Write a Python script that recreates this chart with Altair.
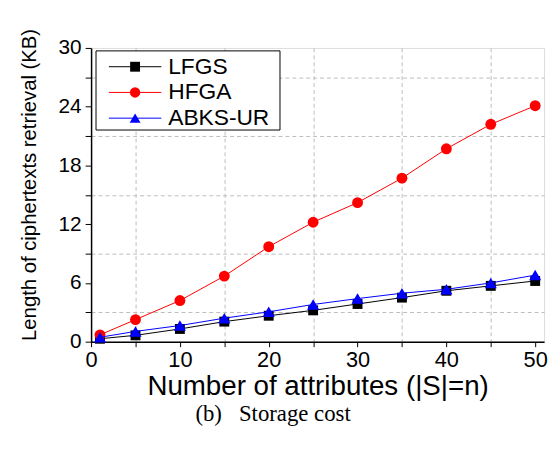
import altair as alt
import pandas as pd

# ---- data ----
n_attrs = [1, 5, 10, 15, 20, 25, 30, 35, 40, 45, 50]
lfgs = [0.3, 0.65, 1.3, 2.05, 2.65, 3.2, 3.85, 4.5, 5.2, 5.7, 6.2]
hfga = [0.7, 2.25, 4.2, 6.7, 9.7, 12.2, 14.2, 16.7, 19.7, 22.2, 24.1]
abks = [0.45, 1.05, 1.65, 2.4, 3.05, 3.8, 4.4, 4.95, 5.35, 6.0, 6.8]

series = ["LFGS", "HFGA", "ABKS-UR"]
colors = ["#000000", "#ff0000", "#0000ff"]
marker_shapes = ["square", "circle", "triangle-up"]
marker_sizes = [100, 121, 150]
x_tick_values = [0, 5, 10, 15, 20, 25, 30, 35, 40, 45, 50]
y_tick_values = [0, 3, 6, 9, 12, 15, 18, 21, 24, 27, 30]

rows = []
for name, vals in zip(series, [lfgs, hfga, abks]):
    for n, v in zip(n_attrs, vals):
        rows.append({"n": n, "v": v, "series": name})
df = pd.DataFrame(rows)
legend_df = pd.DataFrame({"series": series})

FONT = "Liberation Sans"

x_enc = alt.X(
    "n:Q",
    scale=alt.Scale(domain=[0, 51], nice=False, zero=False),
    axis=alt.Axis(
        title="Number of attributes (|S|=n)",
        values=x_tick_values,
        labelExpr="datum.value % 10 == 0 ? datum.label : ''",
        gridOpacity={"condition": {"test": "datum.value % 10 == 5", "value": 1}, "value": 0},
        gridColor="#bdbdbd",
        gridDash=[4, 3],
        gridWidth=1,
        tickSize=5,
        tickColor="black",
        domainColor="black",
        domainWidth=1.5,
        labelFont=FONT,
        labelFontSize=22,
        labelColor="black",
        labelPadding=3,
        labelFlush=False,
        titleFont=FONT,
        titleFontSize=28,
        titleFontWeight="normal",
        titleColor="black",
        titlePadding=2,
    ),
)
y_enc = alt.Y(
    "v:Q",
    scale=alt.Scale(domain=[0, 30], nice=False),
    axis=alt.Axis(
        title="Length of ciphertexts retrieval (KB)",
        values=y_tick_values,
        labelExpr="datum.value % 6 == 0 ? datum.label : ''",
        gridOpacity={"condition": {"test": "datum.value % 6 == 3", "value": 1}, "value": 0},
        gridColor="#bdbdbd",
        gridDash=[4, 3],
        gridWidth=1,
        tickSize=6,
        tickColor="black",
        domainColor="black",
        domainWidth=1.5,
        labelFont=FONT,
        labelFontSize=21,
        labelColor="black",
        labelPadding=4,
        labelFlush=False,
        titleFont=FONT,
        titleFontSize=20.5,
        titleFontWeight="normal",
        titleColor="black",
        titlePadding=19,
        titleY=138,
    ),
)

color_scale = alt.Scale(domain=series, range=colors)
base = alt.Chart(df)

data_layers = []
for name, shp, sz in zip(series, marker_shapes, marker_sizes):
    sub = base.transform_filter(alt.datum.series == name)
    data_layers.append(
        sub.mark_line(strokeWidth=1).encode(
            x=x_enc, y=y_enc,
            color=alt.Color("series:N", scale=color_scale, legend=None),
        )
    )
    data_layers.append(
        sub.mark_point(shape=shp, filled=True, size=sz, opacity=1).encode(
            x=x_enc, y=y_enc,
            color=alt.Color("series:N", scale=color_scale, legend=None),
        )
    )
data_chart = alt.layer(*data_layers)

# ---- legend drawn as its own small layer (entries placed by a point scale) ----
ly = alt.Y(
    "series:N",
    scale=alt.Scale(type="point", domain=series, range=[19, 71], padding=0),
    axis=None,
)
leg_box = alt.Chart(alt.Data(values=[{"k": 1}])).mark_rect(
    fill="white", stroke="black", strokeWidth=1
).encode(x=alt.value(5), x2=alt.value(191), y=alt.value(3), y2=alt.value(83))
leg_lines = alt.Chart(legend_df).mark_rule(strokeWidth=1).encode(
    x=alt.value(18), x2=alt.value(71), y=ly,
    color=alt.Color("series:N", scale=color_scale, legend=None),
)
leg_marks = alt.Chart(legend_df).mark_point(filled=True, opacity=1).encode(
    x=alt.value(44.5), y=ly,
    color=alt.Color("series:N", scale=color_scale, legend=None),
    shape=alt.Shape("series:N", scale=alt.Scale(domain=series, range=marker_shapes), legend=None),
    size=alt.Size("series:N", scale=alt.Scale(domain=series, range=marker_sizes), legend=None),
)
leg_text = alt.Chart(legend_df).mark_text(
    align="left", baseline="middle", font=FONT, fontSize=23, color="black"
).encode(x=alt.value(78), y=ly, text="series:N")
legend_chart = alt.layer(leg_box, leg_lines, leg_marks, leg_text)

chart = (
    alt.layer(data_chart, legend_chart)
    .resolve_scale(y="independent")
    .properties(
        width=458,
        height=297,
        autosize="none",
        padding={"left": 84, "top": 38, "right": 6, "bottom": 95},
        title=alt.TitleParams(
            "(b)\u00a0\u00a0\u00a0Storage cost",
            orient="bottom",
            anchor="middle",
            font="Liberation Serif",
            fontSize=23,
            fontWeight="normal",
            color="black",
            offset=3,
            dx=-45,
        ),
    )
    .configure_view(stroke="black", strokeWidth=1.5)
    .configure(background="white")
)

chart.save("out.html", embed_options={"renderer": "svg", "actions": False})
